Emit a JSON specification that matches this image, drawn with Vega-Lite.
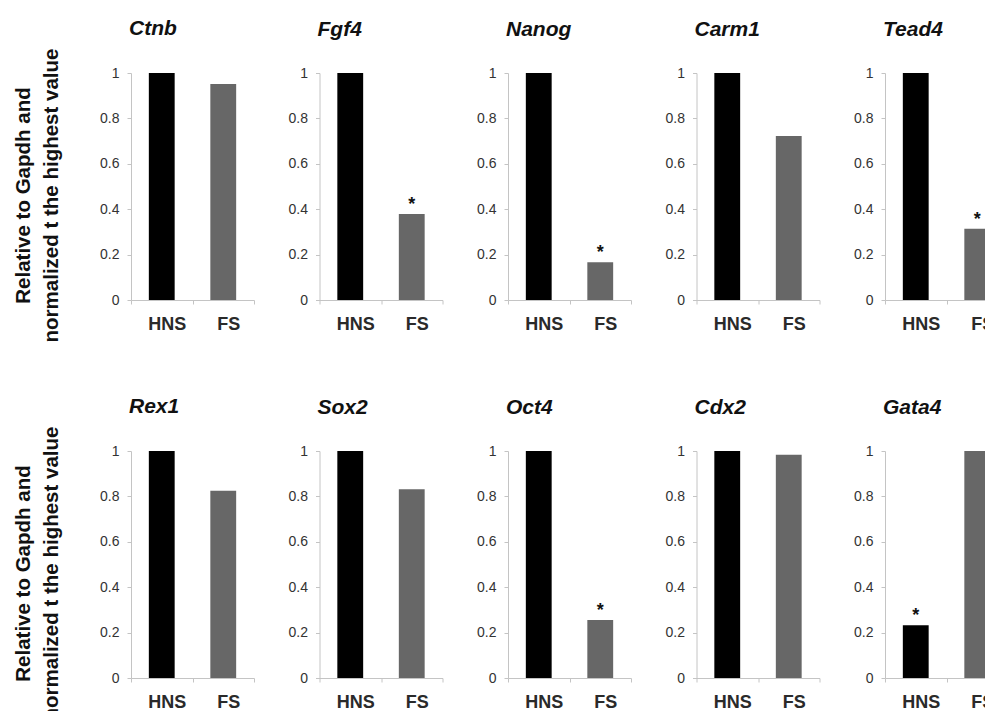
{
  "$schema": "https://vega.github.io/schema/vega-lite/v6.json",
  "padding": {"left": 13, "top": 18, "right": 5, "bottom": 5},
  "background": "white",
  "data": {"values": [
    {"gene": "Ctnb", "group": "HNS", "value": 1, "sig": ""},
    {"gene": "Ctnb", "group": "FS", "value": 0.952, "sig": ""},
    {"gene": "Fgf4", "group": "HNS", "value": 1, "sig": ""},
    {"gene": "Fgf4", "group": "FS", "value": 0.379, "sig": "*"},
    {"gene": "Nanog", "group": "HNS", "value": 1, "sig": ""},
    {"gene": "Nanog", "group": "FS", "value": 0.166, "sig": "*"},
    {"gene": "Carm1", "group": "HNS", "value": 1, "sig": ""},
    {"gene": "Carm1", "group": "FS", "value": 0.722, "sig": ""},
    {"gene": "Tead4", "group": "HNS", "value": 1, "sig": ""},
    {"gene": "Tead4", "group": "FS", "value": 0.314, "sig": "*"},
    {"gene": "Rex1", "group": "HNS", "value": 1, "sig": ""},
    {"gene": "Rex1", "group": "FS", "value": 0.825, "sig": ""},
    {"gene": "Sox2", "group": "HNS", "value": 1, "sig": ""},
    {"gene": "Sox2", "group": "FS", "value": 0.832, "sig": ""},
    {"gene": "Oct4", "group": "HNS", "value": 1, "sig": ""},
    {"gene": "Oct4", "group": "FS", "value": 0.256, "sig": "*"},
    {"gene": "Cdx2", "group": "HNS", "value": 1, "sig": ""},
    {"gene": "Cdx2", "group": "FS", "value": 0.983, "sig": ""},
    {"gene": "Gata4", "group": "HNS", "value": 0.232, "sig": "*"},
    {"gene": "Gata4", "group": "FS", "value": 1, "sig": ""}
  ]},
  "columns": 5,
  "spacing": {"row": 151, "column": 65.5},
  "bounds": "flush",
  "concat": [
    {"title": {"text": "Ctnb", "offset": 9}, "width": 123, "height": 227, "transform": [{"filter": "datum.gene === 'Ctnb'"}],
     "encoding": {"x": {"field": "group", "type": "nominal", "sort": ["HNS", "FS"], "title": null},
                  "y": {"field": "value", "type": "quantitative", "scale": {"domain": [0, 1]}, "axis": {"title": ["Relative to Gapdh and", "normalized t the highest value"], "titleY": 122}}},
     "layer": [{"mark": {"type": "bar", "width": {"band": 0.42}}, "encoding": {"color": {"field": "group", "type": "nominal", "scale": {"domain": ["HNS", "FS"], "range": ["#000000", "#676767"]}, "legend": null}}},
               {"mark": {"type": "text", "baseline": "alphabetic", "dy": -4, "fontSize": 18, "fontWeight": "bold", "color": "#111"}, "encoding": {"text": {"field": "sig"}}}]},
    {"title": {"text": "Fgf4"}, "width": 123, "height": 227, "transform": [{"filter": "datum.gene === 'Fgf4'"}],
     "encoding": {"x": {"field": "group", "type": "nominal", "sort": ["HNS", "FS"], "title": null},
                  "y": {"field": "value", "type": "quantitative", "scale": {"domain": [0, 1]}, "axis": {"title": null}}},
     "layer": [{"mark": {"type": "bar", "width": {"band": 0.42}}, "encoding": {"color": {"field": "group", "type": "nominal", "scale": {"domain": ["HNS", "FS"], "range": ["#000000", "#676767"]}, "legend": null}}},
               {"mark": {"type": "text", "baseline": "alphabetic", "dy": -4, "fontSize": 18, "fontWeight": "bold", "color": "#111"}, "encoding": {"text": {"field": "sig"}}}]},
    {"title": {"text": "Nanog"}, "width": 123, "height": 227, "transform": [{"filter": "datum.gene === 'Nanog'"}],
     "encoding": {"x": {"field": "group", "type": "nominal", "sort": ["HNS", "FS"], "title": null},
                  "y": {"field": "value", "type": "quantitative", "scale": {"domain": [0, 1]}, "axis": {"title": null}}},
     "layer": [{"mark": {"type": "bar", "width": {"band": 0.42}}, "encoding": {"color": {"field": "group", "type": "nominal", "scale": {"domain": ["HNS", "FS"], "range": ["#000000", "#676767"]}, "legend": null}}},
               {"mark": {"type": "text", "baseline": "alphabetic", "dy": -4, "fontSize": 18, "fontWeight": "bold", "color": "#111"}, "encoding": {"text": {"field": "sig"}}}]},
    {"title": {"text": "Carm1"}, "width": 123, "height": 227, "transform": [{"filter": "datum.gene === 'Carm1'"}],
     "encoding": {"x": {"field": "group", "type": "nominal", "sort": ["HNS", "FS"], "title": null},
                  "y": {"field": "value", "type": "quantitative", "scale": {"domain": [0, 1]}, "axis": {"title": null}}},
     "layer": [{"mark": {"type": "bar", "width": {"band": 0.42}}, "encoding": {"color": {"field": "group", "type": "nominal", "scale": {"domain": ["HNS", "FS"], "range": ["#000000", "#676767"]}, "legend": null}}},
               {"mark": {"type": "text", "baseline": "alphabetic", "dy": -4, "fontSize": 18, "fontWeight": "bold", "color": "#111"}, "encoding": {"text": {"field": "sig"}}}]},
    {"title": {"text": "Tead4"}, "width": 123, "height": 227, "transform": [{"filter": "datum.gene === 'Tead4'"}],
     "encoding": {"x": {"field": "group", "type": "nominal", "sort": ["HNS", "FS"], "title": null},
                  "y": {"field": "value", "type": "quantitative", "scale": {"domain": [0, 1]}, "axis": {"title": null}}},
     "layer": [{"mark": {"type": "bar", "width": {"band": 0.42}}, "encoding": {"color": {"field": "group", "type": "nominal", "scale": {"domain": ["HNS", "FS"], "range": ["#000000", "#676767"]}, "legend": null}}},
               {"mark": {"type": "text", "baseline": "alphabetic", "dy": -4, "fontSize": 18, "fontWeight": "bold", "color": "#111"}, "encoding": {"text": {"field": "sig"}}}]},
    {"title": {"text": "Rex1", "offset": 9}, "width": 123, "height": 227, "transform": [{"filter": "datum.gene === 'Rex1'"}],
     "encoding": {"x": {"field": "group", "type": "nominal", "sort": ["HNS", "FS"], "title": null},
                  "y": {"field": "value", "type": "quantitative", "scale": {"domain": [0, 1]}, "axis": {"title": ["Relative to Gapdh and", "normalized t the highest value"], "titleY": 122}}},
     "layer": [{"mark": {"type": "bar", "width": {"band": 0.42}}, "encoding": {"color": {"field": "group", "type": "nominal", "scale": {"domain": ["HNS", "FS"], "range": ["#000000", "#676767"]}, "legend": null}}},
               {"mark": {"type": "text", "baseline": "alphabetic", "dy": -4, "fontSize": 18, "fontWeight": "bold", "color": "#111"}, "encoding": {"text": {"field": "sig"}}}]},
    {"title": {"text": "Sox2"}, "width": 123, "height": 227, "transform": [{"filter": "datum.gene === 'Sox2'"}],
     "encoding": {"x": {"field": "group", "type": "nominal", "sort": ["HNS", "FS"], "title": null},
                  "y": {"field": "value", "type": "quantitative", "scale": {"domain": [0, 1]}, "axis": {"title": null}}},
     "layer": [{"mark": {"type": "bar", "width": {"band": 0.42}}, "encoding": {"color": {"field": "group", "type": "nominal", "scale": {"domain": ["HNS", "FS"], "range": ["#000000", "#676767"]}, "legend": null}}},
               {"mark": {"type": "text", "baseline": "alphabetic", "dy": -4, "fontSize": 18, "fontWeight": "bold", "color": "#111"}, "encoding": {"text": {"field": "sig"}}}]},
    {"title": {"text": "Oct4"}, "width": 123, "height": 227, "transform": [{"filter": "datum.gene === 'Oct4'"}],
     "encoding": {"x": {"field": "group", "type": "nominal", "sort": ["HNS", "FS"], "title": null},
                  "y": {"field": "value", "type": "quantitative", "scale": {"domain": [0, 1]}, "axis": {"title": null}}},
     "layer": [{"mark": {"type": "bar", "width": {"band": 0.42}}, "encoding": {"color": {"field": "group", "type": "nominal", "scale": {"domain": ["HNS", "FS"], "range": ["#000000", "#676767"]}, "legend": null}}},
               {"mark": {"type": "text", "baseline": "alphabetic", "dy": -4, "fontSize": 18, "fontWeight": "bold", "color": "#111"}, "encoding": {"text": {"field": "sig"}}}]},
    {"title": {"text": "Cdx2"}, "width": 123, "height": 227, "transform": [{"filter": "datum.gene === 'Cdx2'"}],
     "encoding": {"x": {"field": "group", "type": "nominal", "sort": ["HNS", "FS"], "title": null},
                  "y": {"field": "value", "type": "quantitative", "scale": {"domain": [0, 1]}, "axis": {"title": null}}},
     "layer": [{"mark": {"type": "bar", "width": {"band": 0.42}}, "encoding": {"color": {"field": "group", "type": "nominal", "scale": {"domain": ["HNS", "FS"], "range": ["#000000", "#676767"]}, "legend": null}}},
               {"mark": {"type": "text", "baseline": "alphabetic", "dy": -4, "fontSize": 18, "fontWeight": "bold", "color": "#111"}, "encoding": {"text": {"field": "sig"}}}]},
    {"title": {"text": "Gata4"}, "width": 123, "height": 227, "transform": [{"filter": "datum.gene === 'Gata4'"}],
     "encoding": {"x": {"field": "group", "type": "nominal", "sort": ["HNS", "FS"], "title": null},
                  "y": {"field": "value", "type": "quantitative", "scale": {"domain": [0, 1]}, "axis": {"title": null}}},
     "layer": [{"mark": {"type": "bar", "width": {"band": 0.42}}, "encoding": {"color": {"field": "group", "type": "nominal", "scale": {"domain": ["HNS", "FS"], "range": ["#000000", "#676767"]}, "legend": null}}},
               {"mark": {"type": "text", "baseline": "alphabetic", "dy": -4, "fontSize": 18, "fontWeight": "bold", "color": "#111"}, "encoding": {"text": {"field": "sig"}}}]}
  ],
  "config": {
    "font": "Liberation Sans",
    "view": {"stroke": null},
    "scale": {"bandPaddingInner": 0, "bandPaddingOuter": 0},
    "title": {"font": "Liberation Sans", "fontSize": 21, "fontWeight": "bold", "fontStyle": "italic", "color": "#111", "anchor": "start", "frame": "group", "baseline": "alphabetic", "offset": 15, "dx": -2},
    "axis": {"grid": false, "domainColor": "#c4c4c4", "tickColor": "#c4c4c4", "tickSize": 4, "domainWidth": 1},
    "axisY": {"values": [0, 0.2, 0.4, 0.6, 0.8, 1], "format": ".1~f", "labelFontSize": 14, "labelColor": "#333333", "labelPadding": 8,
              "titleFontSize": 20.5, "titleFontWeight": "bold", "titleColor": "#111", "titleLineHeight": 28, "titlePadding": 38},
    "axisX": {"labelAngle": 0, "tickBand": "extent", "labelFontSize": 18, "labelColor": "#2a2a2a", "labelPadding": 11, "labelFontWeight": "bold", "labelOffset": 5}
  }
}
